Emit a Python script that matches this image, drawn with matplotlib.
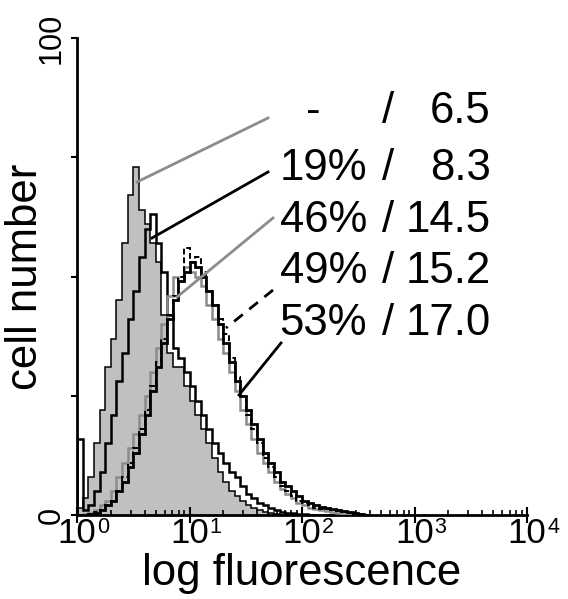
import numpy as np
import matplotlib
matplotlib.use("Agg")
import matplotlib.pyplot as plt
import matplotlib.transforms as mtransforms
from matplotlib.lines import Line2D

plt.rcParams['font.family'] = ['Liberation Sans', 'DejaVu Sans']

# ---- data (log10 fluorescence bins, cell counts) ----
log_edges = np.round(np.arange(0, 2.601, 0.05), 2)   # 53 edges -> 52 bins
control_fill = [1.5, 3.5, 8, 15, 22, 31, 37, 45, 57, 67, 73, 64, 61, 57, 53, 42, 34, 31, 31, 27,
                24, 21, 18, 15, 12, 9, 7, 5, 4, 3, 2, 1.5, 1, 0.6, 0.4, 0.3, 0, 0, 0, 0,
                0, 0, 0, 0, 0, 0, 0, 0, 0, 0, 0, 0]
pct19 = [16, 1, 2, 5, 9, 15, 21, 28, 34, 41, 47, 54, 60, 63, 57, 51, 42, 35, 33, 30,
         27, 24, 21, 18, 15, 13, 11, 9, 8, 6, 4.5, 3.5, 2.5, 2, 1.5, 1, 0.7, 0.5, 0.4, 0.3,
         0.2, 0, 0, 0, 0, 0, 0, 0, 0, 0, 0, 0]
pct46 = [0, 0.3, 0.5, 1, 2, 3, 5, 8, 11, 14, 17, 21, 25, 30, 35, 40, 46, 50, 49, 52,
         51, 50, 48, 44, 41, 37, 34, 30, 26, 22, 19, 16, 13, 11, 9, 7, 5.5, 4.5, 3.5, 2.5,
         2, 1.5, 1.2, 1, 0.8, 0.6, 0.4, 0.3, 0.2, 0, 0, 0]
pct49 = [0, 0, 0.3, 0.6, 1, 2, 3, 5, 8, 11, 14, 18, 22, 27, 32, 37, 42, 46, 50, 56,
         53, 54, 51, 47, 44, 41, 38, 33, 29, 25, 21, 18, 15, 12, 10, 8, 6, 5, 4, 3,
         2.5, 2, 1.5, 1.3, 1.2, 1, 0.8, 0.6, 0.5, 0.3, 0.2, 0]
pct53 = [0, 0, 0.3, 0.5, 1, 2, 3, 5, 7, 10, 13, 17, 21, 26, 31, 36, 41, 45, 49, 51,
         53, 52, 50, 47, 44, 40, 36, 32, 28, 25, 22, 19, 16, 13, 11, 9, 7, 6, 5, 4,
         3, 2.5, 2, 1.7, 1.5, 1.2, 1, 0.8, 0.6, 0.4, 0.3, 0]

pct_labels = ['-', '19%', '46%', '49%', '53%']
mfi_labels = ['6.5', '8.3', '14.5', '15.2', '17.0']

xtick_vals = [1, 10, 100, 1000, 10000]
xtick_exps = ['0', '1', '2', '3', '4']
ytick_vals = [0, 25, 50, 75, 100]
ytick_labels = ['0', '', '', '', '100']

# ---- figure ----
W, H = 568, 599
fig = plt.figure(figsize=(W / 100, H / 100), dpi=100)
ax = fig.add_axes([77 / W, 1 - 515 / H, 450 / W, 477 / H])

edges = 10 ** log_edges
GRAY_FILL = '#c0c0c0'
GRAY_LINE = '#8c8c8c'

ax.stairs(control_fill, edges, fill=True, color=GRAY_FILL, zorder=1)
ax.stairs(control_fill, edges, color='black', lw=1.1, zorder=2)
ax.stairs(pct19, edges, color='black', lw=1.8, zorder=3)
ax.stairs(pct46, edges, color=GRAY_LINE, lw=1.8, zorder=4)
ax.stairs(pct53, edges, color='black', lw=2.0, zorder=4)
ax.stairs(pct49, edges, color='black', lw=1.4, ls=(0, (3, 1.5)), zorder=5)

ax.set_xscale('log')
ax.set_xlim(1, 10000)
ax.set_ylim(0, 100)

for s in ['top', 'right']:
    ax.spines[s].set_visible(False)
for s in ['left', 'bottom']:
    ax.spines[s].set_linewidth(2)

ax.set_xticks(xtick_vals)
ax.set_xticklabels([''] * len(xtick_vals))
ax.tick_params(axis='x', which='major', direction='inout', length=11, width=1.5)
ax.tick_params(axis='x', which='minor', direction='in', length=3.5, width=1.2)
ax.set_yticks(ytick_vals)
ax.set_yticklabels(ytick_labels, rotation=90, va='center')
ax.tick_params(axis='y', direction='out', length=4.3, width=1.5, labelsize=22, pad=3)

# x tick labels: "10" centred on the tick, exponent hanging to the right
base_tr = mtransforms.blended_transform_factory(ax.transData, ax.transAxes)
for v, e in zip(xtick_vals, xtick_exps):
    tr_main = base_tr + mtransforms.ScaledTranslation(0, -28 / 100, fig.dpi_scale_trans)
    ax.text(v, 0, '10', transform=tr_main, ha='center', va='baseline', fontsize=25, clip_on=False)
    tr_exp = base_tr + mtransforms.ScaledTranslation(20 / 100, -18 / 100, fig.dpi_scale_trans)
    ax.text(v, 0, e, transform=tr_exp, ha='left', va='baseline', fontsize=15.5, clip_on=False)

fig.text(0.5 * (77 + 527) / W, 1 - 585 / H, 'log fluorescence', ha='center', va='baseline', fontsize=31.5)
ax.set_ylabel('cell number', fontsize=31.5)
ax.yaxis.set_label_coords(-0.068, 0.5)

# ---- annotation texts (figure pixel positions) ----
def fx(x):
    return x / W

def fy(y):
    return 1 - y / H

TXT = 31.5
baselines = [123, 180, 232, 283, 335]
for i in range(5):
    if pct_labels[i] == '-':
        fig.text(fx(313), fy(baselines[i]), pct_labels[i], ha='center', va='baseline', fontsize=TXT)
    else:
        fig.text(fx(367), fy(baselines[i]), pct_labels[i], ha='right', va='baseline', fontsize=TXT)
    fig.text(fx(388), fy(baselines[i]), '/', ha='center', va='baseline', fontsize=TXT)
    fig.text(fx(491), fy(baselines[i]), mfi_labels[i], ha='right', va='baseline', fontsize=TXT)

pointers = [
    ((268, 118), (137, 182), GRAY_LINE, '-'),
    ((268, 172), (152, 238), 'black', '-'),
    ((273, 218), (177, 297), GRAY_LINE, '-'),
    ((273, 290), (226, 328), 'black', (0, (4, 3))),
    ((281, 343), (239, 395), 'black', '-'),
]
for (x0, y0), (x1, y1), c, ls in pointers:
    fig.add_artist(Line2D([fx(x0), fx(x1)], [fy(y0), fy(y1)], color=c, lw=2, ls=ls))

fig.savefig('out.png', dpi=100)
